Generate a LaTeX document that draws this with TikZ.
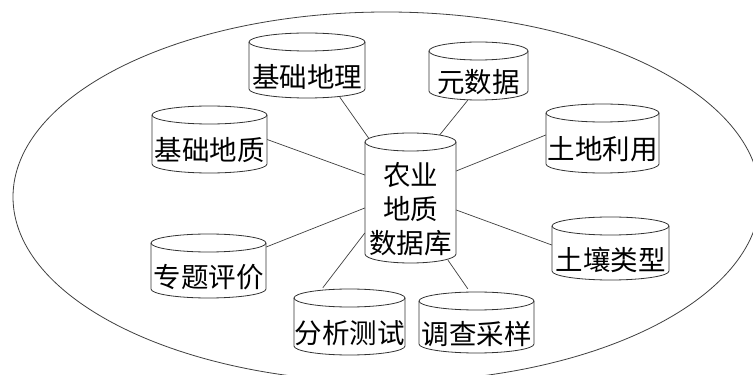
\documentclass[tikz,border=0pt]{standalone}
\usepackage{fontspec}
\newfontfamily\cjk{Noto Sans CJK SC}
\usetikzlibrary{calc,backgrounds}
\tikzset{
  conn/.style={draw=black!75, line width=0.7pt},
  cylline/.style={draw=black!80, line width=0.8pt, fill=white},
  lbl/.style={font=\cjk\fontsize{27.5}{34}\selectfont, inner sep=0pt, align=center},
  boxnode/.style={inner sep=0pt, draw=none, rectangle},
  outer/.style={draw=black!75, line width=0.8pt}
}
\newcommand\dbcyl[6]{%
  \pgfmathsetmacro\cylrx{(#4-#2)/2}%
  \pgfmathsetmacro\cylcx{(#4+#2)/2}%
  \pgfmathsetmacro\cylyT{375-#3}%
  \pgfmathsetmacro\cylyB{375-#5}%
  \pgfmathsetmacro\cylcy{(\cylyT+\cylyB)/2}%
  \node[boxnode, minimum width={(#4-#2)*1pt}, minimum height={(#5-#3)*1pt}] (#1) at (\cylcx,\cylcy) {};
  \draw[cylline] (#2,\cylyT-9) -- (#2,\cylyB+9) arc[start angle=180,end angle=360,x radius=\cylrx,y radius=9] -- (#4,\cylyT-9) arc[start angle=0,end angle=180,x radius=\cylrx,y radius=9] -- cycle;
  \draw[cylline, fill=none] (#2,\cylyT-9) arc[start angle=180,end angle=360,x radius=\cylrx,y radius=9];
  \node[lbl] (#1-t) at (\cylcx, {(\cylyT-18+\cylyB)/2-2}) {#6};
}
\begin{document}
\begin{tikzpicture}[x=1pt,y=1pt]
\useasboundingbox (0,0) rectangle (753,375);
\begin{scope}
  \clip (0,0) rectangle (753,375);
  \draw[outer] (386.5,178) ellipse[x radius=373.5, y radius=185];
\end{scope}
\dbcyl{gl}{249}{33}{365}{98}{基础地理}
\dbcyl{ysj}{429}{42}{528}{100}{元数据}
\dbcyl{jczz}{152}{106}{267}{173}{基础地质}
\dbcyl{tdly}{546}{104}{659}{173}{土地利用}
\dbcyl{c}{365}{133}{456}{263}{农业\\地质\\数据库}
\dbcyl{ztpj}{151}{234}{266}{298}{专题评价}
\dbcyl{trlx}{552}{217}{669}{280}{土壤类型}
\dbcyl{fxcs}{294}{289}{405}{355}{分析测试}
\dbcyl{dccy}{419}{292}{534}{353}{调查采样}
\begin{scope}[on background layer]
  \fill[white] (0,0) rectangle (753,375);
  \draw[conn] ([shift={(91,1)}]gl.south west) -- ([shift={(5,-7)}]c.north west);
  \draw[conn] ([shift={(39,0)}]ysj.south west) -- ([shift={(-18,-4)}]c.north east);
  \draw[conn] (jczz.east) -- ([shift={(0,23)}]c.west);
  \draw[conn] ([shift={(0,3.5)}]tdly.west) -- ([shift={(0,27)}]c.east);
  \draw[conn] ([shift={(0,19)}]ztpj.east) -- ([shift={(0,-10)}]c.west);
  \draw[conn] ([shift={(0,3.5)}]trlx.west) -- ([shift={(0,-12)}]c.east);
  \draw[conn] ([shift={(29,1)}]fxcs.north west) -- ([shift={(0,-35)}]c.west);
  \draw[conn] ([shift={(49,3)}]dccy.north west) -- ([shift={(37.5,3)}]c.south);
\end{scope}
\end{tikzpicture}
\end{document}
